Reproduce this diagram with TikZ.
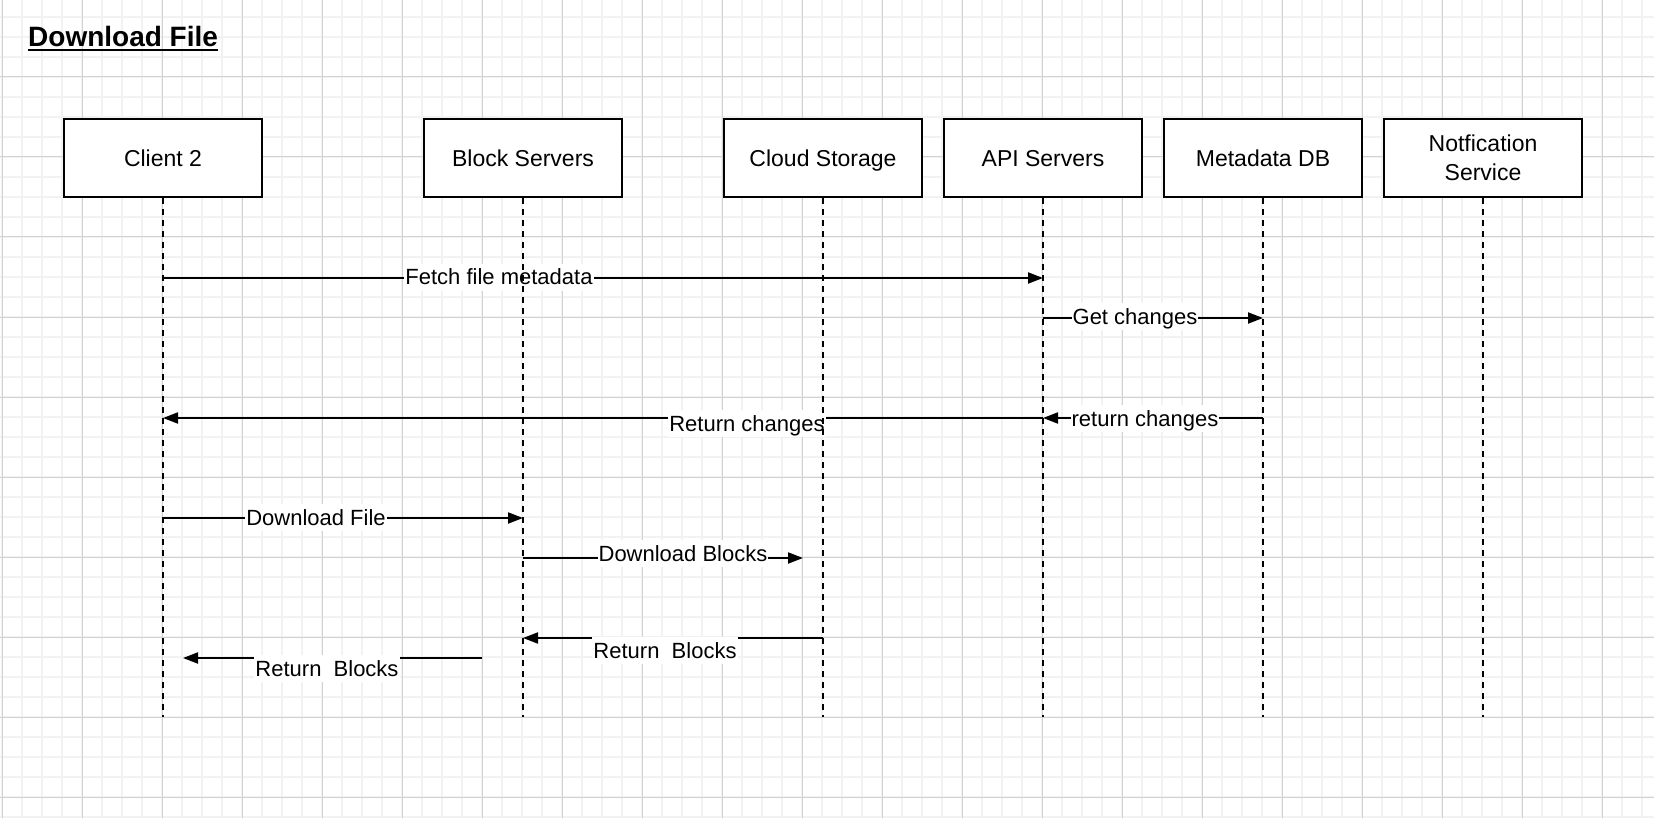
\documentclass[tikz,border=0pt]{standalone}
\usepackage{fontspec}
\setmainfont{Liberation Sans}
\usetikzlibrary{arrows.meta}
\begin{document}
\begin{tikzpicture}[x=1pt,y=-1pt,
  minorgrid/.style={draw=gray!10,line width=1.5pt},
  majorgrid/.style={draw=gray!35,line width=1pt},
  actor/.style={draw=black,line width=2pt,fill=white,minimum width=198pt,minimum height=78pt,inner sep=0pt,font=\fontsize{23}{29}\selectfont},
  oneline/.style={text height=17pt,text depth=0pt},
  lifeline/.style={draw=black,line width=2pt,dash pattern=on 6pt off 5pt},
  msg/.style={draw=black,line width=2pt,-{Triangle[length=15pt,width=11pt]}},
  lbl/.style={fill=white,inner xsep=1pt,inner ysep=0pt,text height=21pt,text depth=6pt,anchor=base,font=\fontsize{22}{26}\selectfont},
]
\fill[white] (0,0) rectangle (1654,818);
\useasboundingbox (0,0) rectangle (1654,818);
% grid
\foreach \x in {2,22,...,1654} \draw[minorgrid] (\x,0) -- (\x,818);
\foreach \y in {17,37,...,818} \draw[minorgrid] (0,\y) -- (1654,\y);
\foreach \x in {2,82,...,1654} \draw[majorgrid] (\x,0) -- (\x,818);
\foreach \y in {77,157,...,818} \draw[majorgrid] (0,\y) -- (1654,\y);

% title
\node[anchor=base west,inner sep=0pt,font=\fontsize{28}{33}\selectfont\bfseries] (title) at (28,47) {Download File};
\draw[line width=2pt] ([yshift=-3pt]title.base west) -- ([yshift=-3pt]title.base east);

% actors
\node[actor,oneline] (client) at (163,158) {Client 2};
\node[actor,oneline] (block) at (523,158) {Block Servers};
\node[actor,oneline] (cloud) at (823,158) {Cloud Storage};
\node[actor,oneline] (api) at (1043,158) {API Servers};
\node[actor,oneline] (meta) at (1263,158) {Metadata DB};
\node[actor,align=center] (notif) at (1483,158) {Notfication\\Service};

% lifeline ends
\coordinate (clientEnd) at (client |- 0,717);
\coordinate (blockEnd) at (block |- 0,717);
\coordinate (cloudEnd) at (cloud |- 0,717);
\coordinate (apiEnd) at (api |- 0,717);
\coordinate (metaEnd) at (meta |- 0,717);
\coordinate (notifEnd) at (notif |- 0,717);

% messages
\coordinate (m1a) at (client |- 0,278); \coordinate (m1b) at (api |- 0,278);
\draw[msg] (m1a) -- (m1b);
\node[lbl] (l1) at (499,285) {Fetch file metadata};

\coordinate (m2a) at (api |- 0,318); \coordinate (m2b) at (meta |- 0,318);
\draw[msg] (m2a) -- (m2b);
\node[lbl] (l2) at (1135,324) {Get changes};

\coordinate (m3a) at (meta |- 0,418); \coordinate (m3b) at (api |- 0,418);
\draw[msg] (m3a) -- (m3b);
\node[lbl] (l3) at (1145,426) {return changes};

\coordinate (m4a) at (api |- 0,418); \coordinate (m4b) at (client |- 0,418);
\draw[msg] (m4a) -- (m4b);
\node[lbl] (l4) at (747,431) {Return changes};

\coordinate (m5a) at (client |- 0,518); \coordinate (m5b) at (block |- 0,518);
\draw[msg] (m5a) -- (m5b);
\node[lbl] (l5) at (316,525) {Download File};

\coordinate (m6a) at (block |- 0,558); \coordinate (m6b) at (803,558);
\draw[msg] (m6a) -- (m6b);
\node[lbl] (l6) at (683,561) {Download Blocks};

\coordinate (m7a) at (cloud |- 0,638); \coordinate (m7b) at (block |- 0,638);
\draw[msg] (m7a) -- (m7b);
\node[lbl] (l7) at (665,658) {Return\ \ Blocks};

\coordinate (m8a) at (482,658); \coordinate (m8b) at (183,658);
\draw[msg] (m8a) -- (m8b);
\node[lbl] (l8) at (327,676) {Return\ \ Blocks};

% lifelines
\draw[lifeline] (client.south) -- (clientEnd);
\draw[lifeline] (block.south) -- (blockEnd);
\draw[lifeline] (cloud.south) -- (cloudEnd);
\draw[lifeline] (api.south) -- (apiEnd);
\draw[lifeline] (meta.south) -- (metaEnd);
\draw[lifeline] (notif.south) -- (notifEnd);
\end{tikzpicture}
\end{document}
